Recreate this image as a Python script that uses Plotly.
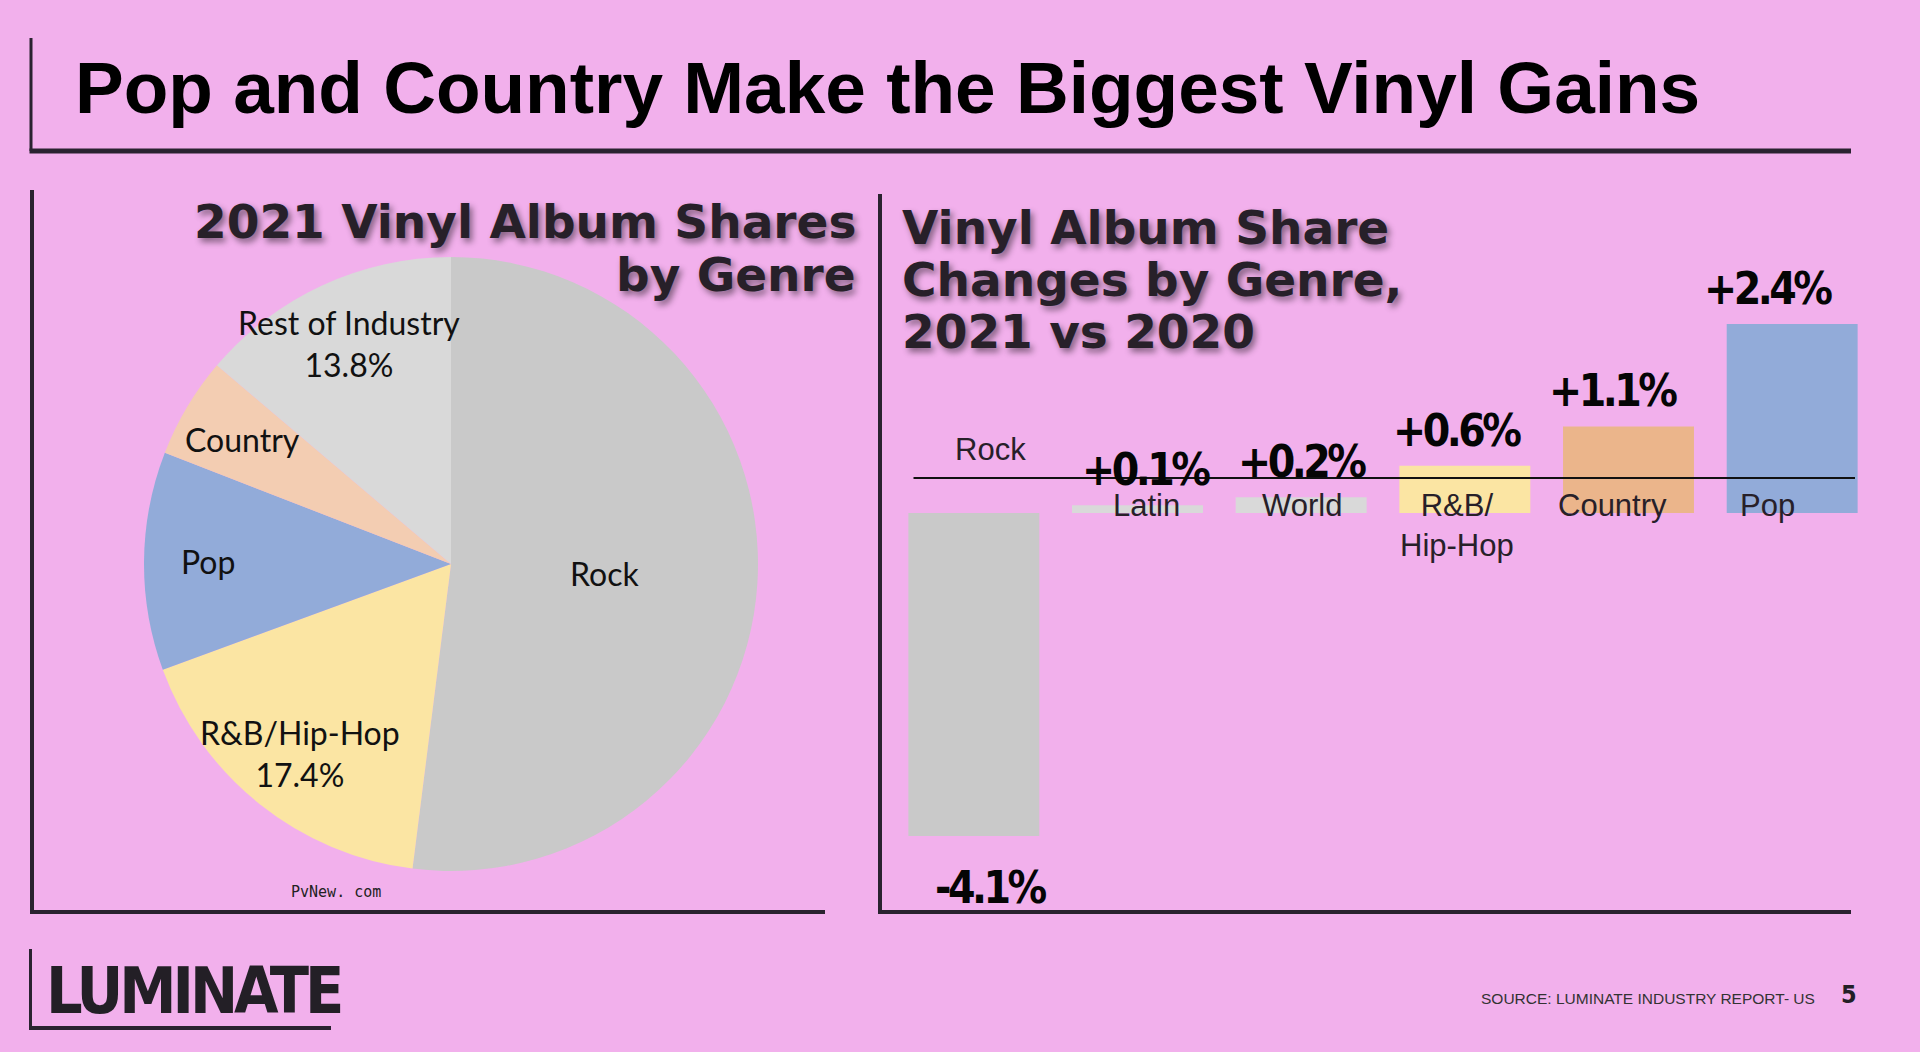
import math
import plotly.graph_objects as go

W, H = 1920, 1052

# ---------------- data ----------------
pie_labels = ["Rock", "R&B/Hip-Hop", "Pop", "Country", "Rest of Industry"]
pie_shares = [52.0, 17.4, 11.5, 5.3, 13.8]
pie_show_share = [False, True, False, False, True]

bar_genres = ["Rock", "Latin", "World", "R&B/Hip-Hop", "Country", "Pop"]
bar_tick_labels = ["Rock", "Latin", "World", "R&B/<br>Hip-Hop", "Country", "Pop"]
bar_changes = [-4.1, 0.1, 0.2, 0.6, 1.1, 2.4]

# ---------------- styles ----------------
BG = "#f2b0ec"
INK = "#272029"
pie_colors = ["#c9c9c9", "#fbe5a3", "#92abd9", "#f3cdb2", "#d9d9d9"]
bar_colors = ["#c9c9c9", "#d9d9d9", "#d9d9d9", "#fbe5a3", "#ebb58b", "#92abd9"]
pie_label_radius = [0.5, 0.79, 0.79, 0.79, 0.79]

ARIAL = "Liberation Sans, Arial, sans-serif"
NARROW = "DejaVu Sans Condensed, sans-serif"
WIDE = "DejaVu Sans, Verdana, sans-serif"
CALIBRI = "Lato, Carlito, Calibri, sans-serif"
SHADOW = "3px 4px 6px rgba(0,0,0,0.45)"


def px(x):
    return x / W


def py(y):
    return 1 - y / H


def tight(s, ls):
    return f'<span style="letter-spacing:{ls}px">{s}</span>'


annotations = []


def label(x, y, text, size, family, color=INK, xanchor="center", yanchor="middle",
          shadow=None, weight="normal", **kw):
    f = dict(family=family, size=size, color=color, weight=weight)
    if shadow:
        f["shadow"] = shadow
    d = dict(x=x, y=y, text=text, showarrow=False, font=f, xanchor=xanchor,
             yanchor=yanchor, align=xanchor if xanchor != "center" else "center",
             xref="paper", yref="paper")
    d.update(kw)
    annotations.append(d)


def baseline_label(x, base, text, size, family, k=0.3465, **kw):
    label(px(x), py(base - k * size), text, size, family, **kw)


# ---------------- pie ----------------
cx, cy, R = 451, 564, 307
pie = go.Pie(
    values=pie_shares, labels=pie_labels, sort=False, direction="clockwise",
    rotation=0, textinfo="none", hoverinfo="label+percent", showlegend=False,
    marker=dict(colors=pie_colors, line=dict(width=0)),
    domain=dict(x=[px(cx - R), px(cx + R)], y=[py(cy + R), py(cy - R)]),
)

total = sum(pie_shares)
acc = 0.0
for name, v, show, f in zip(pie_labels, pie_shares, pie_show_share, pie_label_radius):
    mid = (acc + v / 2) / total * 2 * math.pi
    acc += v
    lx = cx + f * R * math.sin(mid)
    ly = cy - f * R * math.cos(mid)
    txt = name + (f"<br>{v:.1f}%" if show else "")
    label(px(lx), py(ly), txt, 32, CALIBRI, color="#111111")

# ---------------- bars ----------------
bars = go.Bar(
    x=bar_genres, y=bar_changes, marker=dict(color=bar_colors, line=dict(width=0)),
    xaxis="x", yaxis="y", hoverinfo="x+y", showlegend=False,
)
anchor_trace = go.Scatter(
    x=bar_genres, y=bar_changes, xaxis="x2", yaxis="y", mode="markers",
    marker=dict(opacity=0), hoverinfo="skip", showlegend=False,
)

for g, tick, v in zip(bar_genres, bar_tick_labels, bar_changes):
    pos = v > 0
    label(g, v, tight(f"{v:+.1f}%", -3.5), 44, NARROW, color="#050505", weight="bold",
          xref="x2", yref="y", yanchor="bottom" if pos else "top",
          yshift=8 if pos else -24)
    label(g, 0, tick, 31, ARIAL, color=INK, xref="x2", yref="y",
          yanchor="top" if pos else "bottom", yshift=27 if pos else 44)

# ---------------- titles & text ----------------
baseline_label(73, 113, "Pop and Country Make the Biggest Vinyl Gains", 73, ARIAL,
               color="#000000", xanchor="left", weight="bold")

baseline_label(858, 238, "2021 Vinyl Album Shares", 47, WIDE, k=0.346,
               xanchor="right", weight="bold", shadow=SHADOW)
baseline_label(858, 291, "by Genre", 47, WIDE, k=0.346,
               xanchor="right", weight="bold", shadow=SHADOW)

for i, line in enumerate(["Vinyl Album Share", "Changes by Genre,", "2021 vs 2020"]):
    baseline_label(900, 244 + 51.8 * i, line, 47, WIDE, k=0.346,
                   xanchor="left", weight="bold", shadow=SHADOW)

baseline_label(336, 897, "PvNew. com", 15, "DejaVu Sans Mono, monospace", color="#222222")
baseline_label(44, 1013, tight("LUMINATE", -4), 64, NARROW, xanchor="left",
               weight="bold", color="#231f26")
baseline_label(1817, 1003.5, "SOURCE: LUMINATE INDUSTRY REPORT- US", 15.5, ARIAL,
               xanchor="right", color="#333333")
baseline_label(1859, 1003.5, "5", 25, NARROW, xanchor="right", weight="bold", color="#231f26")

# ---------------- decoration lines ----------------
LINE = "#2a2230"


def seg(x0, y0, x1, y1, w):
    return dict(type="line", xref="paper", yref="paper", x0=px(x0), y0=py(y0),
                x1=px(x1), y1=py(y1), line=dict(color=LINE, width=w), layer="above")


shapes = [
    seg(31, 38, 31, 151, 3), seg(29.5, 151, 1851, 151, 5),
    seg(32, 190, 32, 913, 4), seg(30, 912, 825, 912, 4),
    seg(880, 194, 880, 913, 4), seg(878, 912, 1851, 912, 4),
    seg(30.5, 949, 30.5, 1030, 3), seg(29, 1028, 331, 1028, 4),
    dict(type="line", xref="paper", yref="paper", x0=px(913.5), x1=px(1855),
         y0=py(478), y1=py(478), line=dict(color="#111111", width=2), layer="above"),
]

zero_px = 513
unit_px = 78.75
y_top_px, y_bot_px = 180, 912

fig = go.Figure([pie, bars, anchor_trace])
fig.update_layout(
    width=W, height=H, margin=dict(l=0, r=0, t=0, b=0),
    paper_bgcolor=BG, plot_bgcolor="rgba(0,0,0,0)",
    bargap=0.2, showlegend=False,
    xaxis=dict(domain=[px(892), px(1874)], range=[-0.5, 5.5], visible=False,
               type="category", categoryarray=bar_genres, anchor="y", fixedrange=True),
    xaxis2=dict(domain=[px(913), px(1845.7)], range=[-0.5, 5.5], visible=False,
                type="category", categoryarray=bar_genres, anchor="y", fixedrange=True),
    yaxis=dict(domain=[py(y_bot_px), py(y_top_px)],
               range=[-(y_bot_px - zero_px) / unit_px, (zero_px - y_top_px) / unit_px],
               visible=False, anchor="x", fixedrange=True),
    annotations=annotations,
    shapes=shapes,
)

fig.write_html(
    "out.html",
    config={"displayModeBar": False},
    post_script="document.body.style.margin='0';document.body.style.overflow='hidden';",
)
